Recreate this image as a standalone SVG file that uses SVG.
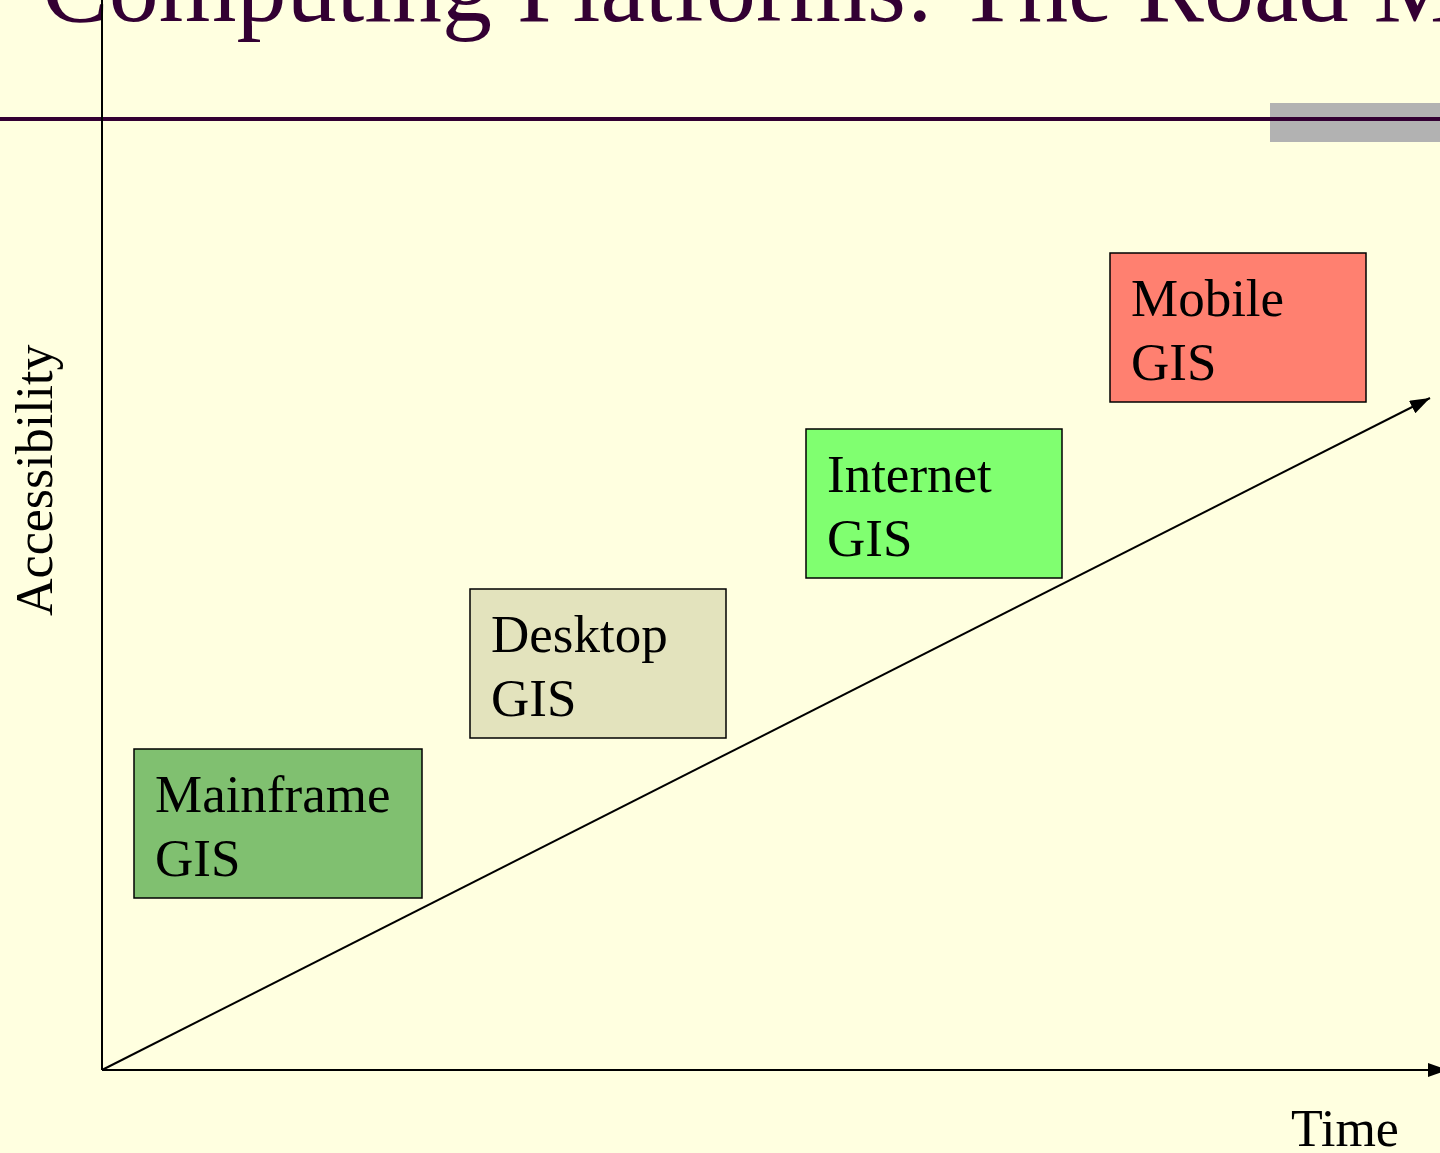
<svg xmlns="http://www.w3.org/2000/svg" width="1440" height="1153" viewBox="0 0 1440 1153">
  <defs>
    <style>
      .title { font-family: "Liberation Serif", "Times New Roman", serif; font-size: 100px; fill: #330033; }
      .lbl { font-family: "Liberation Serif", "Times New Roman", serif; font-size: 53px; fill: #000; }
      .axislbl { font-family: "Liberation Serif", "Times New Roman", serif; font-size: 52px; fill: #000; }
      .box { stroke: #000; stroke-width: 1.5; }
      .axis { stroke: #000; stroke-width: 2; fill: none; }
    </style>
    <marker id="arrow" viewBox="0 0 10 10" refX="10" refY="5" markerWidth="10" markerHeight="10" markerUnits="userSpaceOnUse" orient="auto">
      <path d="M0,0 L10,5 L0,10 z" fill="#000"/>
    </marker>
    <marker id="arrowBig" viewBox="0 0 20 14" refX="20" refY="7" markerWidth="20" markerHeight="14" markerUnits="userSpaceOnUse" orient="auto">
      <path d="M0,0 L20,7 L0,14 z" fill="#000"/>
    </marker>
  </defs>

  <!-- background -->
  <rect x="0" y="0" width="1440" height="1153" fill="#FFFFE0"/>

  <!-- header -->
  <g id="header">
    <text class="title" x="42" y="21">Computing Platforms: The Road M</text>
    <rect x="1270" y="103" width="170" height="39" fill="#B2B2B2"/>
    <rect x="0" y="117" width="1440" height="4" fill="#330033"/>
  </g>

  <!-- axes and trend arrow -->
  <g id="connectors">
    <line class="axis" x1="102" y1="0" x2="102" y2="1070"/>
    <line class="axis" x1="102" y1="1070" x2="1448" y2="1070" marker-end="url(#arrowBig)"/>
    <line class="axis" x1="102" y1="1070" x2="1430" y2="398" marker-end="url(#arrowBig)"/>
  </g>

  <g id="axis-labels">
    <text class="axislbl" transform="translate(52,616) rotate(-90)">Accessibility</text>
    <text class="axislbl" x="1291" y="1146">Time</text>
  </g>

  <!-- platform nodes -->
  <g id="mainframe">
    <rect class="box" x="134" y="749" width="288" height="149" fill="#80C070"/>
    <text class="lbl" x="155" y="812">Mainframe</text>
    <text class="lbl" x="155" y="876">GIS</text>
  </g>
  <g id="desktop">
    <rect class="box" x="470" y="589" width="256" height="149" fill="#E3E3BD"/>
    <text class="lbl" x="491" y="652">Desktop</text>
    <text class="lbl" x="491" y="716">GIS</text>
  </g>
  <g id="internet">
    <rect class="box" x="806" y="429" width="256" height="149" fill="#80FF70"/>
    <text class="lbl" x="827" y="492">Internet</text>
    <text class="lbl" x="827" y="556">GIS</text>
  </g>
  <g id="mobile">
    <rect class="box" x="1110" y="253" width="256" height="149" fill="#FF8070"/>
    <text class="lbl" x="1131" y="316">Mobile</text>
    <text class="lbl" x="1131" y="380">GIS</text>
  </g>
</svg>
